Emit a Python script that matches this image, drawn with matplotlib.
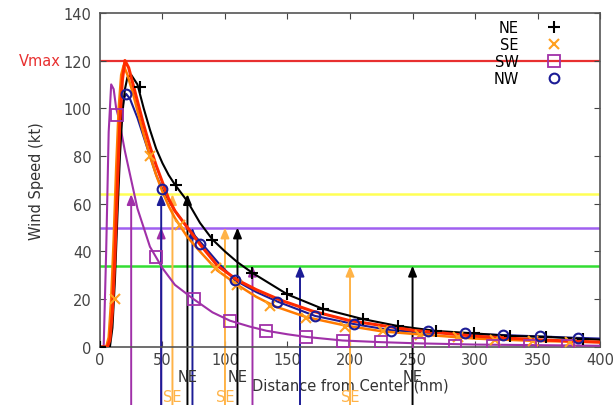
import matplotlib
matplotlib.use('Agg')
import matplotlib.pyplot as plt
from matplotlib.lines import Line2D

# fitted wind profiles
red_r = [0, 6, 8, 10, 12, 14, 16, 18, 20, 23, 26, 30, 35, 40, 45, 50, 55, 60, 70, 80, 94, 110, 125, 145, 170, 200, 250, 300, 350, 400]
red_v = [0, 0, 3, 15, 38, 68, 95, 112, 120, 117, 111, 103, 93, 84, 76, 69, 62, 57, 50, 43, 34, 28, 24, 19.5, 15, 11, 7, 4.5, 3, 2]

ne_r = [0, 8, 10, 12, 14, 16, 18, 20, 22, 25, 30, 35, 40, 45, 50, 55, 60, 70, 80, 90, 100, 110, 122, 150, 178, 210, 238, 269, 299, 328, 357, 386, 400]
ne_v = [0, 0, 8, 28, 55, 80, 98, 108, 113, 114, 110, 100, 91, 83, 77, 72, 68, 61, 52, 45, 40, 35.5, 31, 22, 16, 11.7, 8.8, 6.7, 5.7, 4.6, 4.2, 3.4, 3]

se_r = [0, 5, 7, 9, 11, 13, 15, 17, 19, 22, 26, 30, 35, 40, 45, 50, 55, 60, 70, 80, 94, 110, 125, 140, 165, 196, 226, 250, 300, 350, 400]
se_v = [0, 0, 4, 20, 45, 75, 100, 114, 118, 114, 107, 99, 89, 80, 72, 65, 59, 54, 46, 40, 32, 26, 21, 17, 12.5, 9, 6.5, 5.5, 3.5, 2.5, 2]

sw_r = [0, 3, 5, 7, 9, 11, 13, 15, 20, 25, 30, 35, 40, 45, 50, 60, 75, 90, 104, 120, 133, 150, 165, 194, 225, 255, 300, 400]
sw_v = [0, 0, 40, 90, 110, 108, 100, 96, 82, 70, 58, 50, 42, 37.5, 33, 26, 20, 14.5, 11, 8.5, 6.8, 5.3, 4.2, 2.7, 2, 1.5, 1, 0.5]

nw_r = [0, 7, 9, 11, 13, 15, 17, 19, 21, 24, 30, 35, 40, 45, 50, 60, 70, 82, 95, 108, 125, 142, 172, 203, 233, 262, 292, 322, 352, 382, 400]
nw_v = [0, 0, 8, 28, 55, 78, 95, 104, 106, 104, 96, 88, 80, 72, 66, 57, 50, 43, 35, 28, 23, 19, 13, 9.6, 7, 6, 5.5, 5, 4.4, 3.8, 3.5]

# observed points
ne_pr = [0, 32, 61, 90, 122, 150, 178, 210, 238, 269, 299, 328, 357, 386]
ne_pv = [0, 109, 68, 45, 31, 22, 16, 11.7, 8.8, 6.7, 5.7, 4.6, 4.2, 3.4]
se_pr = [12, 40, 64, 93, 110, 136, 165, 196, 226, 256, 286, 316, 346, 376]
se_pv = [20, 80, 51, 33, 26, 17, 12, 8.4, 6.5, 5, 4, 3, 2.5, 2]
sw_pr = [14, 45, 75, 104, 133, 165, 194, 225, 255, 284, 314, 344, 374]
sw_pv = [97, 37.7, 20, 11, 6.8, 4.2, 2.5, 2, 1.3, 0.5, 0.3, 0.3, 0.3]
nw_pr = [21, 50, 80, 108, 142, 172, 203, 233, 262, 292, 322, 352, 382]
nw_pv = [106, 66, 43, 28, 19, 13, 9.6, 6.7, 6.7, 6, 5, 4.6, 3.8]

# wind radii (nm) for 64, 50, 34 kt
levels = [64, 50, 34]
ne_radii = [70, 110, 250]
se_radii = [58, 100, 200]
sw_radii = [25, 49, 122]
nw_radii = [49, 74, 160]

vmax = 120

c_ne, c_se, c_sw, c_nw = '#000000', '#ff7a00', '#a030a8', '#1c1c96'
c_se_arrow = '#ffb347'
level_colors = ['#ffff55', '#a060f0', '#33dd33']

fig = plt.figure(figsize=(6.13, 4.06), dpi=100)
ax = fig.add_axes([0.163, 0.143, 0.816, 0.823])
ax.set_xlim(0, 400)
ax.set_ylim(0, 140)

ax.axhline(vmax, color='#e83030', lw=1.6, zorder=1)
for lv, lc in zip(levels, level_colors):
    ax.axhline(lv, color=lc, lw=1.8, zorder=1)

# radii arrows from below the axis
arrow_sets = [(ne_radii, c_ne), (se_radii, c_se_arrow), (sw_radii, c_sw), (nw_radii, c_nw)]
for radii, col in arrow_sets:
    for r, lv in zip(radii, levels):
        ax.annotate('', xy=(r, lv), xytext=(r, -25), xycoords='data',
                    arrowprops=dict(arrowstyle='-|>,head_length=0.6,head_width=0.25',
                                    color=col, lw=1.4, shrinkA=0, shrinkB=0),
                    annotation_clip=False, zorder=2)

for r in ne_radii:
    ax.text(r, -12.5, 'NE', color='#333333', ha='center', va='center', fontsize=10.5, clip_on=False)
for r in se_radii:
    ax.text(r, -20.8, 'SE', color=c_se_arrow, ha='center', va='center', fontsize=10.5, clip_on=False)

ax.plot(sw_r, sw_v, color=c_sw, lw=1.5, zorder=3)
ax.plot(nw_r, nw_v, color=c_nw, lw=1.5, zorder=3)
ax.plot(ne_r, ne_v, color=c_ne, lw=1.5, zorder=3)
ax.plot(se_r, se_v, color=c_se, lw=1.8, zorder=3)
ax.plot(red_r, red_v, color='#ff2a00', lw=2.2, zorder=4)

ax.plot(ne_pr, ne_pv, '+', color=c_ne, ms=8, mew=1.5, ls='none', zorder=5)
ax.plot(se_pr, se_pv, 'x', color='#ffa020', ms=7, mew=1.5, ls='none', zorder=5)
ax.plot(sw_pr, sw_pv, 's', mfc='none', mec=c_sw, ms=8, mew=1.3, ls='none', zorder=5)
ax.plot(nw_pr, nw_pv, 'o', mfc='none', mec=c_nw, ms=7, mew=1.5, ls='none', zorder=5)

handles = [Line2D([], [], marker='+', color=c_ne, ms=8, mew=1.5, ls='none'),
           Line2D([], [], marker='x', color='#ffa020', ms=7, mew=1.5, ls='none'),
           Line2D([], [], marker='s', mfc='none', mec=c_sw, ms=8, mew=1.3, ls='none'),
           Line2D([], [], marker='o', mfc='none', mec=c_nw, ms=7, mew=1.5, ls='none')]
ax.legend(handles, ['NE', 'SE', 'SW', 'NW'], loc='upper right', bbox_to_anchor=(0.945, 1.01),
          frameon=False, markerfirst=False, fontsize=10.5, handlelength=1.2,
          handletextpad=1.8, labelspacing=0.15, borderpad=0.2)

ax.set_xticks(range(0, 401, 50))
ax.set_yticks(range(0, 141, 20))
ax.tick_params(direction='in', top=True, right=True, labelsize=10.5, colors='#444444', length=4)
ax.tick_params(axis='y', pad=6)
for s in ax.spines.values():
    s.set_color('#555555')
    s.set_linewidth(1.2)

ax.text(-31, 120, 'Vmax', color='#e83030', ha='right', va='center', fontsize=10.5)
ax.set_xlabel('Distance from Center (nm)', fontsize=10.5, color='#333333', labelpad=3)
ax.set_ylabel('Wind Speed (kt)', fontsize=10.5, color='#333333', labelpad=14)
ax.xaxis.set_label_coords(0.5, -0.09)

fig.savefig('out.png', dpi=100)
